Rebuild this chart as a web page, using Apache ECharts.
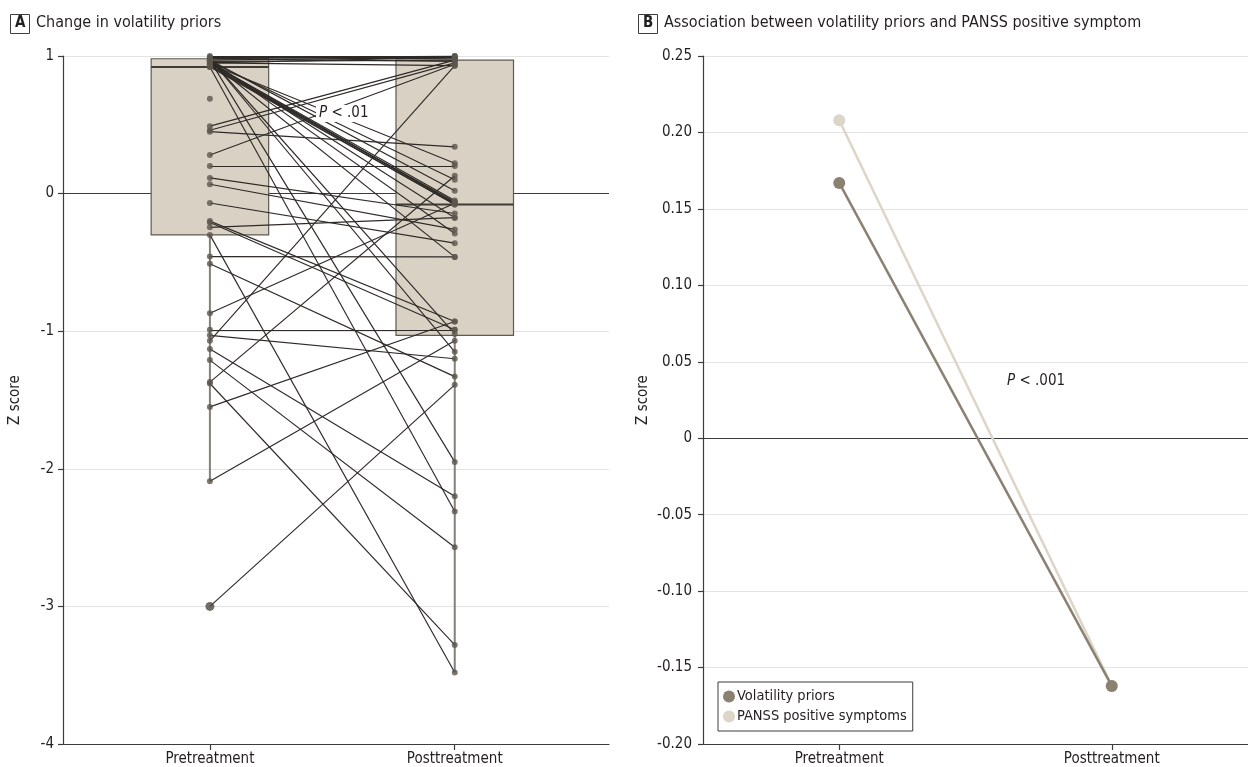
<!DOCTYPE html>
<html>
<head>
<meta charset="utf-8">
<script src="https://cdn.jsdelivr.net/npm/echarts@6/dist/echarts.min.js"></script>
<style>
html,body{margin:0;padding:0;background:#fff;}
#chart{width:1248px;height:767px;}
</style>
</head>
<body>
<div id="chart"></div>
<script>
// ---------- DATA ----------
const categories = ['Pretreatment', 'Posttreatment'];

// Panel A: paired z scores (pretreatment, posttreatment); null = missing
const preScores = [
  1.00, 0.99, 0.99, 0.98, 0.97, 0.98, 0.96, 0.95, 0.95,
  0.95, 0.94, 0.93, 0.93, 0.92,
  0.94, 0.96, 0.97, 0.95, 0.96, 0.97, 0.96, 0.98, 0.97, 0.92, 0.98,
  0.69, 0.49, 0.46, 0.45, 0.28, 0.20, 0.114, 0.068, -0.068,
  -0.20, -0.21, -0.245, -0.30, -0.458, -0.51, -0.87, -0.99, -1.03,
  -1.07, -1.13, -1.21, -1.37, -1.38, -1.55, -2.09, -3.00
];
const postScores = [
  1.00, 0.99, 0.98, 1.00, 0.99, 0.96, 0.97, 0.99, 0.93,
  -0.07, -0.07, -0.08, -0.06, -0.08,
  0.22, 0.10, 0.02, -0.05, -0.175, -0.29, -0.46, -1.15, -1.95, -2.31, -1.02,
  null, 0.97, 0.95, 0.34, 0.94, 0.20, -0.145, -0.26, -0.36,
  -0.93, -0.99, -0.175, -3.48, -0.46, -1.33, -0.07, -0.99, -1.20,
  0.93, -2.20, -2.57, 0.13, -3.28, -0.93, -1.07, -1.39
];
// Box summaries: [position, lower whisker, Q1, median, Q3, upper whisker]
const boxPre  = [1, -2.09, -0.30, 0.92, 0.98, 1.00];
const boxPost = [2, -3.48, -1.03, -0.08, 0.97, 1.00];
const outlierPre = [-3.00];
const yTicksA = [-4, -3, -2, -1, 0, 1];

// Panel B
const volatilityPriors = [0.167, -0.162];
const panssPositive = [0.208, -0.162];

// ---------- BUILD ----------
const FONT = "'Liberation Sans Narrow', 'DejaVu Sans Condensed', 'Roboto', sans-serif";
const TXT = '#231f20';
const DOT = '#5d564d';
const LINE = '#2e2a27';
const GRIDC = '#e3e3e3';
const ZEROC = '#3c3c3c';
// split-line colours in tick order (bottom to top); the zero line is dark
const splitColorsA = yTicksA.map(t => (t === 0 ? ZEROC : GRIDC));
const splitColorsB = [GRIDC, GRIDC, GRIDC, GRIDC, ZEROC, GRIDC, GRIDC, GRIDC, GRIDC, GRIDC];

const pairLines = [];
const preDots = [];
const postDots = [];
for (let i = 0; i < preScores.length; i++) {
  const a = preScores[i], b = postScores[i];
  if (outlierPre.indexOf(a) < 0) preDots.push([1, a]);
  if (b !== null) {
    postDots.push([2, b]);
    pairLines.push({ coords: [[1, a], [2, b]] });
  }
}

function renderBox(params, api) {
  const x = api.value(0);
  const low = api.value(1), q1 = api.value(2), med = api.value(3), q3 = api.value(4), high = api.value(5);
  const hw = 0.24;
  const tl = api.coord([x - hw, q3]);
  const br = api.coord([x + hw, q1]);
  const mL = api.coord([x - hw, med]);
  const mR = api.coord([x + hw, med]);
  const pLow = api.coord([x, low]);
  const pHigh = api.coord([x, high]);
  return {
    type: 'group',
    children: [
      { type: 'line', shape: { x1: pLow[0], y1: br[1], x2: pLow[0], y2: pLow[1] },
        style: { stroke: '#858079', lineWidth: 2 } },
      { type: 'line', shape: { x1: pHigh[0], y1: tl[1], x2: pHigh[0], y2: pHigh[1] },
        style: { stroke: '#858079', lineWidth: 2 } },
      { type: 'rect', shape: { x: tl[0], y: tl[1], width: br[0] - tl[0], height: br[1] - tl[1] },
        style: { fill: '#d9d2c4', stroke: '#5e5953', lineWidth: 1.2 } },
      { type: 'line', shape: { x1: mL[0], y1: mL[1], x2: mR[0], y2: mR[1] },
        style: { stroke: '#3f3b37', lineWidth: 2 } }
    ]
  };
}

const axisLineStyle = { color: '#3c3c3c', width: 1.2 };

const option = {
  animation: false,
  backgroundColor: '#fff',
  textStyle: { fontFamily: FONT, color: TXT },
  grid: [
    { left: 63, top: 56, width: 546, height: 688 },
    { left: 703, top: 56, right: 0, height: 688 }
  ],
  xAxis: [
    {
      gridIndex: 0, type: 'value', min: 0.4, max: 2.63,
      axisLine: { show: true, onZero: false, lineStyle: axisLineStyle },
      axisTick: { show: true, length: 6, customValues: [1, 2], lineStyle: axisLineStyle },
      axisLabel: { customValues: [1, 2], formatter: v => categories[Math.round(v) - 1] || '',
                   fontFamily: FONT, fontSize: 15, color: TXT, margin: 8 },
      splitLine: { show: false }
    },
    {
      gridIndex: 1, type: 'category', data: categories, boundaryGap: true,
      axisLine: { show: true, onZero: false, lineStyle: axisLineStyle },
      axisTick: { show: true, length: 6, alignWithLabel: true, lineStyle: axisLineStyle },
      axisLabel: { fontFamily: FONT, fontSize: 15, color: TXT, margin: 8 },
      splitLine: { show: false }
    }
  ],
  yAxis: [
    {
      gridIndex: 0, type: 'value', min: -4, max: 1, interval: 1,
      name: 'Z score', nameLocation: 'middle', nameGap: 40,
      nameTextStyle: { fontFamily: FONT, fontSize: 15, color: TXT },
      axisLine: { show: true, lineStyle: axisLineStyle },
      axisTick: { show: true, length: 5, lineStyle: axisLineStyle },
      axisLabel: { fontFamily: FONT, fontSize: 15, color: TXT, margin: 9 },
      splitLine: { show: true, lineStyle: { color: splitColorsA, width: 1.2 } }
    },
    {
      gridIndex: 1, type: 'value', min: -0.2, max: 0.25, interval: 0.05,
      name: 'Z score', nameLocation: 'middle', nameGap: 52,
      nameTextStyle: { fontFamily: FONT, fontSize: 15, color: TXT },
      axisLine: { show: true, lineStyle: axisLineStyle },
      axisTick: { show: true, length: 5, lineStyle: axisLineStyle },
      axisLabel: { fontFamily: FONT, fontSize: 15, color: TXT, margin: 11,
                   formatter: v => (Math.abs(v) < 1e-9 ? '0' : v.toFixed(2)) },
      splitLine: { show: true, lineStyle: { color: splitColorsB, width: 1.2 } }
    }
  ],
  legend: {
    left: 718, top: 682, orient: 'vertical',
    data: ['Volatility priors', 'PANSS positive symptoms'],
    icon: 'circle', itemWidth: 12, itemHeight: 12, itemGap: 5,
    padding: [7, 6, 7, 5],
    borderColor: '#3c3c3c', borderWidth: 1, backgroundColor: '#fff',
    textStyle: { fontFamily: FONT, fontSize: 14.5, color: TXT, padding: [0, 0, 0, -3] }
  },
  series: [
    {
      type: 'custom', xAxisIndex: 0, yAxisIndex: 0, z: 6,
      renderItem: renderBox, data: [boxPre, boxPost], silent: true
    },
    {
      type: 'lines', coordinateSystem: 'cartesian2d', xAxisIndex: 0, yAxisIndex: 0, z: 7,
      data: pairLines, silent: true,
      lineStyle: { color: LINE, width: 1.15, opacity: 1 }
    },
    {
      type: 'scatter', xAxisIndex: 0, yAxisIndex: 0, z: 8, silent: true,
      data: preDots.concat(postDots), symbolSize: 6,
      itemStyle: { color: DOT }
    },
    {
      type: 'scatter', xAxisIndex: 0, yAxisIndex: 0, z: 8, silent: true,
      data: outlierPre.map(v => [1, v]), symbolSize: 9,
      itemStyle: { color: '#4e4840' }
    },
    {
      name: 'PANSS positive symptoms', type: 'line', xAxisIndex: 1, yAxisIndex: 1, z: 6,
      data: panssPositive, symbol: 'circle', symbolSize: 12,
      lineStyle: { color: '#ddd6c8', width: 2.5 }, itemStyle: { color: '#ddd6c8' }
    },
    {
      name: 'Volatility priors', type: 'line', xAxisIndex: 1, yAxisIndex: 1, z: 7,
      data: volatilityPriors, symbol: 'circle', symbolSize: 12,
      lineStyle: { color: '#8b8173', width: 2.5 }, itemStyle: { color: '#8b8173' }
    }
  ],
  graphic: [
    { type: 'rect', left: 10, top: 14, z: 100, shape: { width: 19, height: 19 },
      style: { fill: '#fff', stroke: '#3c3c3c', lineWidth: 1 } },
    { type: 'text', left: 15, top: 16, z: 101,
      style: { text: 'A', font: "bold 15px " + FONT, fill: TXT } },
    { type: 'text', left: 36, top: 15, z: 101,
      style: { text: 'Change in volatility priors', font: "16px " + FONT, fill: TXT } },
    { type: 'rect', left: 638, top: 14, z: 100, shape: { width: 19, height: 19 },
      style: { fill: '#fff', stroke: '#3c3c3c', lineWidth: 1 } },
    { type: 'text', left: 643, top: 16, z: 101,
      style: { text: 'B', font: "bold 15px " + FONT, fill: TXT } },
    { type: 'text', left: 664, top: 15, z: 101,
      style: { text: 'Association between volatility priors and PANSS positive symptom', font: "16px " + FONT, fill: TXT } },
    { type: 'text', left: 316, top: 105, z: 100,
      style: { text: '{i|P} < .01', backgroundColor: '#fff', padding: [1, 3, 1, 3],
        font: "15px " + FONT, fill: TXT,
        rich: { i: { fontStyle: 'italic', fontSize: 15, fontFamily: FONT, fill: TXT } } } },
    { type: 'text', left: 1007, top: 374, z: 100,
      style: { text: '{i|P} < .001', font: "15px " + FONT, fill: TXT,
        rich: { i: { fontStyle: 'italic', fontSize: 15, fontFamily: FONT, fill: TXT } } } }
  ]
};

const chart = echarts.init(document.getElementById('chart'), null, { renderer: 'canvas' });
chart.setOption(option);
</script>
</body>
</html>
